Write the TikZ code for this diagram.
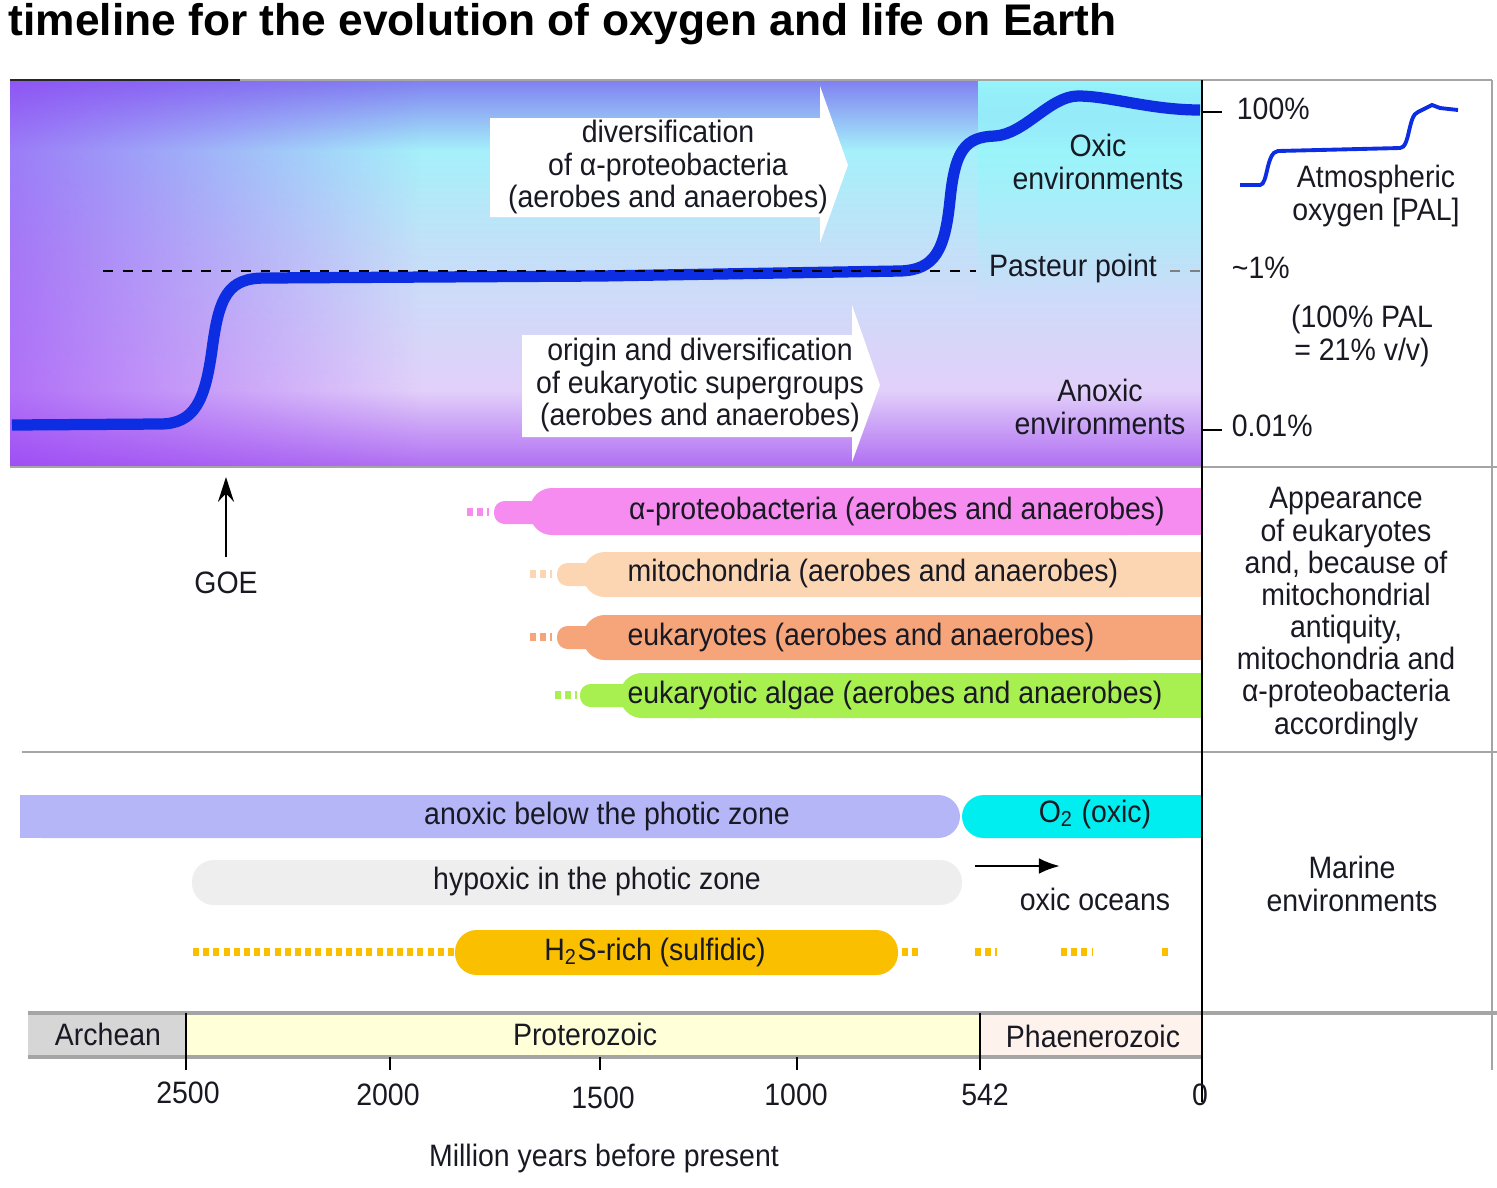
\documentclass[tikz,border=0pt]{standalone}
\usepackage{fontspec}
\setmainfont{Liberation Sans}
\usepackage{tikz}
\usetikzlibrary{arrows.meta,positioning,fadings}

\definecolor{inkc}{RGB}{25,25,35}
\definecolor{o2blue}{RGB}{12,45,226}
\definecolor{rulegrey}{RGB}{165,165,165}
\definecolor{bgA}{RGB}{128,128,240}
\definecolor{bgB}{RGB}{165,240,250}
\definecolor{bgC}{RGB}{196,224,248}
\definecolor{bgD}{RGB}{226,208,250}
\definecolor{bgE}{RGB}{176,110,242}
\definecolor{bgleft}{RGB}{150,62,246}
\definecolor{bgoxic}{RGB}{150,246,250}
\definecolor{alphacol}{RGB}{246,140,240}
\definecolor{mitocol}{RGB}{252,214,178}
\definecolor{eukcol}{RGB}{246,165,122}
\definecolor{algaecol}{RGB}{168,240,80}
\definecolor{anoxcol}{RGB}{180,182,248}
\definecolor{oxiccol}{RGB}{0,238,240}
\definecolor{hypcol}{RGB}{238,238,238}
\definecolor{sulfcol}{RGB}{250,192,0}
\definecolor{archcol}{RGB}{214,214,214}
\definecolor{protcol}{RGB}{255,255,216}
\definecolor{phancol}{RGB}{253,243,236}

\begin{document}
\begin{tikzpicture}[x=0.01cm,y=-0.01cm,node distance=3pt,
  txt/.style={font=\fontsize{8.8}{9.15}\selectfont,xscale=0.92,align=center,inner sep=1pt,text=inkc},
  rule/.style={draw=rulegrey,line width=0.8pt},
  o2line/.style={draw=o2blue,line width=3.2pt},
  lifebar/.style={rounded corners=6.2pt},
  dots/.style={line width=2.2pt,dash pattern=on 1.7pt off 1.2pt}]
  \useasboundingbox (0,0) rectangle (1497,1187);

  \node[anchor=base west,inner sep=0pt,font=\fontsize{12.6}{14}\selectfont\bfseries] (title) at (8,35) {timeline for the evolution of oxygen and life on Earth};

  % oxygen panel
  \shade[top color=bgA,bottom color=bgB] (10,80) rectangle (1202,151);
  \shade[top color=bgB,bottom color=bgC] (10,150) rectangle (1202,251);
  \shade[top color=bgC,bottom color=bgD] (10,250) rectangle (1202,391);
  \shade[top color=bgD,bottom color=bgE] (10,390) rectangle (1202,467);
  \fill[bgleft,fill opacity=0.65,path fading=east] (10,80) rectangle (420,467);
  \fill[bgoxic,path fading=south] (978,80) rectangle (1202,300);

  \fill[white] (490,118) -- (820,118) -- (820,86) -- (848,165) -- (820,243) -- (820,217) -- (490,217) -- cycle;
  \node[txt] (divalpha) at (668,167) {diversification\\of α-proteobacteria\\(aerobes and anaerobes)};
  \fill[white] (522,335) -- (852,335) -- (852,305) -- (880,385) -- (852,462) -- (852,437) -- (522,437) -- cycle;
  \node[txt] (origeuk) at (700,385) {origin and diversification\\of eukaryotic supergroups\\(aerobes and anaerobes)};

  \draw[o2line] (12,425) -- (160,424) .. controls (195,424) and (205,400) .. (212,350)
    .. controls (219,296) and (228,278) .. (265,278) -- (600,276) -- (900,271)
    .. controls (935,270) and (945,250) .. (950,200) .. controls (955,150) and (965,137) .. (995,136)
    .. controls (1025,134) and (1050,96) .. (1078,96) .. controls (1110,96) and (1150,110) .. (1200,110);

  \node[txt,inner xsep=4pt] (pasteur) at (1073,268) {Pasteur point};
  \draw[dash pattern=on 2.8pt off 2.8pt,line width=0.6pt] (103,271) -- (pasteur.west |- 103,271);
  \draw[gray,dash pattern=on 2.8pt off 2.8pt,line width=0.6pt] (pasteur.east |- 103,271) -- (1202,271);

  \node[txt] (oxicenv) at (1098,162) {Oxic\\environments};
  \node[txt] (anoxenv) at (1100,407) {Anoxic\\environments};

  % scale on the right
  \node[txt,anchor=west] (p100) at (1233,109) {100\%};
  \node[txt,anchor=west] (p1) at (1228,268) {\textasciitilde1\%};
  \node[txt,anchor=west] (p001) at (1228,426) {0.01\%};
  \draw[line width=0.7pt] (1202,112) -- (1222,112);
  \draw[line width=0.7pt] (1202,430) -- (1222,430);
  \node[txt] (palnote) at (1362,336) {(100\% PAL\\= 21\% v/v)};
  \draw[o2blue,line width=1.1pt] (1240,185) -- (1260,185) .. controls (1268,185) and (1266,152) .. (1278,151)
    -- (1400,148) .. controls (1410,148) and (1408,115) .. (1418,112) -- (1432,105) -- (1440,108) -- (1458,110);
  \node[txt] (atmo) at (1376,196) {Atmospheric\\oxygen [PAL]};

  % frame
  \draw[rule] (10,80) -- (1492,80);
  \draw[line width=0.8pt,black!85] (10,80) -- (240,80);
  \draw[rule] (10,467) -- (1497,467);
  \draw[rule] (22,752) -- (1497,752);
  \draw[rule,line width=1.3pt] (28,1013) -- (1497,1013);
  \draw[rule] (1492,80) -- (1492,1070);

  % GOE
  \node[txt] (goe) at (226,583) {GOE};
  \coordinate (goetip) at (226,477);
  \draw[-{Stealth[length=7pt,width=4.5pt]},line width=0.7pt,shorten <=3pt] (goe) -- (goetip);

  % appearance bars
  \fill[alphacol,lifebar] (530,488) rectangle (1150,535);
  \fill[alphacol] (1100,488) rectangle (1202,535);
  \fill[alphacol,rounded corners=3pt] (494,501) rectangle (560,524);
  \draw[alphacol,dots] (467,512) -- (489,512);
  \node[txt] (alpha) at (897,511) {α-proteobacteria (aerobes and anaerobes)};

  \fill[mitocol,lifebar] (583,552) rectangle (1150,597);
  \fill[mitocol] (1100,552) rectangle (1202,597);
  \fill[mitocol,rounded corners=3pt] (557,563) rectangle (610,586);
  \draw[mitocol,dots] (530,574) -- (552,574);
  \node[txt] (mito) at (873,573) {mitochondria (aerobes and anaerobes)};

  \fill[eukcol,lifebar] (583,615) rectangle (1150,660);
  \fill[eukcol] (1100,615) rectangle (1202,660);
  \fill[eukcol,rounded corners=3pt] (557,626) rectangle (610,649);
  \draw[eukcol,dots] (530,637) -- (552,637);
  \node[txt] (euk) at (861,637) {eukaryotes (aerobes and anaerobes)};

  \fill[algaecol,lifebar] (620,673) rectangle (1150,718);
  \fill[algaecol] (1100,673) rectangle (1202,718);
  \fill[algaecol,rounded corners=3pt] (580,684) rectangle (645,707);
  \draw[algaecol,dots] (555,695) -- (577,695);
  \node[txt] (algae) at (895,695) {eukaryotic algae (aerobes and anaerobes)};

  \node[txt] (appear) at (1346,614) {Appearance\\of eukaryotes\\and, because of\\mitochondrial\\antiquity,\\mitochondria and\\α-proteobacteria\\accordingly};

  % marine environments
  \fill[anoxcol,lifebar] (20,795) rectangle (960,838);
  \fill[anoxcol] (20,795) rectangle (900,838);
  \node[txt] (anox) at (607,816) {anoxic below the photic zone};
  \fill[oxiccol,lifebar] (962,795) rectangle (1202,838);
  \fill[oxiccol] (1020,795) rectangle (1202,838);
  \node[txt] (oxic) at (1095,814) {O\textsubscript{2} (oxic)};
  \fill[hypcol,lifebar] (192,860) rectangle (962,905);
  \node[txt] (hypox) at (597,881) {hypoxic in the photic zone};
  \draw[sulfcol,dots] (193,952) -- (458,952);
  \fill[sulfcol,lifebar] (455,930) rectangle (898,975);
  \draw[sulfcol,dots] (902,952) -- (922,952);
  \draw[sulfcol,dots] (975,952) -- (997,952);
  \draw[sulfcol,dots] (1061,952) -- (1092,952);
  \draw[sulfcol,dots] (1162,952) -- (1168,952);
  \node[txt] (sulf) at (655,952) {H\textsubscript{2}S-rich (sulfidic)};

  \coordinate (ocstart) at (975,866);
  \coordinate (ocend) at (1060,866);
  \draw[-{Latex[length=6pt,width=4.5pt]},line width=0.8pt] (ocstart) -- (ocend);
  \node[txt] (oceans) at (1095,899) {oxic oceans};
  \node[txt] (marine) at (1352,884) {Marine\\environments};

  % eras and time axis
  \fill[archcol] (28,1014) rectangle (186,1056);
  \fill[protcol] (186,1014) rectangle (980,1056);
  \fill[phancol] (980,1014) rectangle (1202,1056);
  \draw[rule,line width=1.3pt] (28,1013) -- (1202,1013);
  \draw[rule,line width=1.3pt] (28,1057) -- (1202,1057);
  \node[txt] (arch) at (108,1034) {Archean};
  \node[txt] (prot) at (585,1034) {Proterozoic};
  \node[txt] (phan) at (1093,1036) {Phaenerozoic};
  \draw[line width=0.7pt] (186,1013) -- (186,1070);
  \draw[line width=0.7pt] (980,1013) -- (980,1070);
  \draw[line width=0.7pt] (390,1057) -- (390,1070);
  \draw[line width=0.7pt] (600,1057) -- (600,1070);
  \draw[line width=0.7pt] (797,1057) -- (797,1070);
  \draw[line width=0.7pt] (1202,80) -- (1202,1102);

  \coordinate (k2500) at (188,1067);
  \coordinate (k2000) at (388,1069);
  \coordinate (k1500) at (603,1072);
  \coordinate (k1000) at (796,1069);
  \coordinate (k542) at (985,1069);
  \coordinate (k0) at (1200,1069);
  \node[txt,below=of k2500] (t2500) {2500};
  \node[txt,below=of k2000] (t2000) {2000};
  \node[txt,below=of k1500] (t1500) {1500};
  \node[txt,below=of k1000] (t1000) {1000};
  \node[txt,below=of k542] (t542) {542};
  \node[txt,below=of k0] (t0) {0};
  \node[txt] (xlab) at (604,1158) {Million years before present};
\end{tikzpicture}
\end{document}
